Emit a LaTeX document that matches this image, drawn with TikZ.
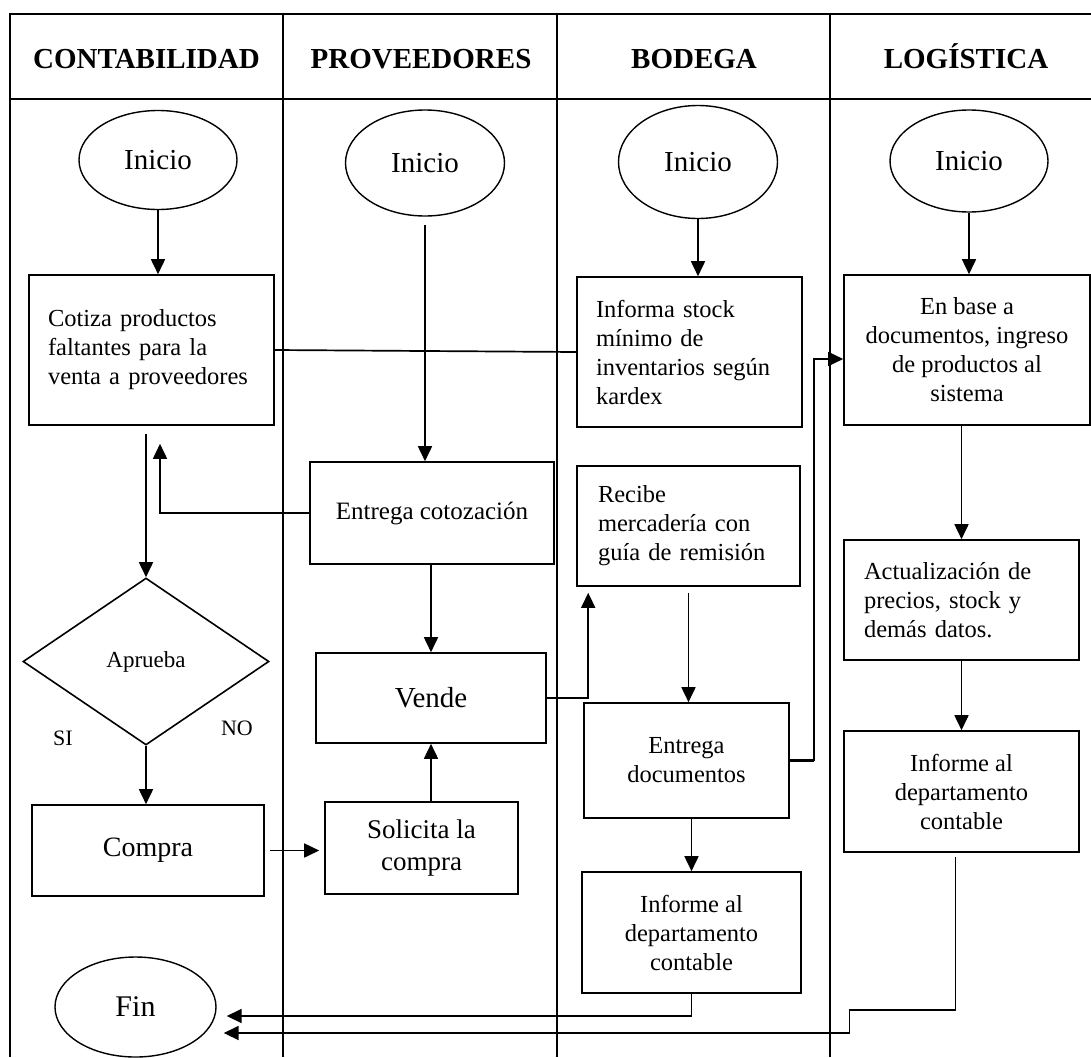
\documentclass[tikz,border=0pt]{standalone}
\usepackage{fontspec}
\setmainfont{Liberation Serif}
\usetikzlibrary{shapes.geometric,arrows.meta,calc}
\begin{document}
\begin{tikzpicture}[x=1pt,y=-1pt,
  lane/.style={line width=2.5pt},
  box/.style={draw,line width=1.6pt,rectangle,inner sep=0pt},
  oval/.style={draw,line width=1.4pt,ellipse,inner sep=0pt,font=\fontsize{29}{33}\selectfont},
  head/.style={font=\fontsize{29}{33}\selectfont\bfseries,anchor=base},
  txt/.style={font=\fontsize{24.5}{29}\selectfont},
  big/.style={font=\fontsize{28}{32}\selectfont},
  arr/.style={line width=1.7pt,-{Triangle[length=15pt,width=14pt]}},
  link/.style={line width=1.7pt},
]
\fill[white] (0,0) rectangle (1091,1057);
\useasboundingbox (0,0) rectangle (1091,1057);

% swimlane frame
\draw[lane] (10,1057) -- (10,14) -- (1091,14);
\draw[lane] (10,99) -- (1091,99);
\foreach \x in {283,557,830} \draw[lane] (\x,14) -- (\x,1057);

% lane titles
\node[head] (hC) at (146.5,68) {CONTABILIDAD};
\node[head] (hP) at (421,68) {PROVEEDORES};
\node[head] (hB) at (694,68) {BODEGA};
\node[head] (hL) at (966,68) {LOGÍSTICA};

% start / end terminals
\node[oval,minimum width=158pt,minimum height=99pt] (iniC) at (158,160) {Inicio};
\node[oval,minimum width=159pt,minimum height=106pt] (iniP) at (425,163) {Inicio};
\node[oval,minimum width=159pt,minimum height=113pt] (iniB) at (698,162) {Inicio};
\node[oval,minimum width=158pt,minimum height=102pt] (iniL) at (969,161) {Inicio};
\node[oval,minimum width=161pt,minimum height=100pt,font=\fontsize{30}{34}\selectfont] (fin) at (135.5,1007) {Fin};

% CONTABILIDAD
\node[box,txt,minimum width=245pt,minimum height=150pt,text width=207pt,align=left] (cotiza) at (151.5,350)
  {Cotiza productos\\faltantes para la\\venta a proveedores};
\node[draw,diamond,line width=1.6pt,inner sep=0pt,minimum width=246pt,minimum height=167pt,
  font=\fontsize{23}{27}\selectfont] (apr) at (146,661.5) {Aprueba};
\node[font=\fontsize{22}{26}\selectfont] (si) at (63,738) {SI};
\node[font=\fontsize{22}{26}\selectfont] (no) at (237,728) {NO};
\node[box,big,minimum width=232pt,minimum height=91pt] (compra) at (148,850.5) {Compra};

% PROVEEDORES
\node[box,font=\fontsize{25}{29}\selectfont,minimum width=244pt,minimum height=102pt] (ecot) at (432,513) {Entrega cotozación};
\node[box,font=\fontsize{29}{33}\selectfont,minimum width=230pt,minimum height=90pt] (vende) at (431,698) {Vende};
\node[box,font=\fontsize{27}{32}\selectfont,minimum width=193pt,minimum height=92pt,align=center] (sol) at (421.5,848)
  {Solicita la\\compra};

% BODEGA
\node[box,txt,minimum width=225pt,minimum height=150pt,text width=187pt,align=left] (informa) at (689.5,352)
  {Informa stock\\mínimo de\\inventarios según\\kardex};
\node[box,txt,minimum width=223pt,minimum height=120pt,text width=181pt,align=left] (recibe) at (688.5,526)
  {Recibe\\mercadería con\\guía de remisión};
\node[box,txt,minimum width=205pt,minimum height=115pt,align=center] (entdoc) at (686.5,760.5)
  {Entrega\\documentos};
\node[box,txt,minimum width=219pt,minimum height=121pt,align=center] (infB) at (691.5,932.5)
  {Informe al\\departamento\\contable};

% LOGÍSTICA
\node[box,txt,minimum width=246pt,minimum height=150pt,align=center] (enbase) at (967,350)
  {En base a\\documentos, ingreso\\de productos al\\sistema};
\node[box,txt,minimum width=235pt,minimum height=120pt,text width=195pt,align=left] (actual) at (961.5,600)
  {Actualización de\\precios, stock y\\demás datos.};
\node[box,txt,minimum width=235pt,minimum height=121pt,align=center] (infL) at (961.5,791.5)
  {Informe al\\departamento\\contable};

% flow
\draw[arr] (iniC.south) -- (cotiza.north -| iniC.south);
\draw[arr,shorten <=8pt] (iniP.south) -- (ecot.north -| iniP.south);
\draw[arr] (iniB.south) -- (informa.north -| iniB.south);
\draw[arr] (iniL.south) -- (enbase.north -| iniL.south);

\draw[link] (cotiza.east) -- (informa.west);
\draw[arr,shorten <=8pt] (cotiza.south -| apr.north) -- (apr.north);
\draw[arr,shorten >=18pt] (ecot.west) -| ($(cotiza.south)+(8.5,0)$);
\draw[arr] (ecot.south -| vende.north) -- (vende.north);
\draw[arr] (apr.south) -- (compra.north -| apr.south);
\draw[arr,shorten <=5pt,shorten >=5pt] (compra.east) -- (compra.east -| sol.west);
\draw[arr] (sol.north -| vende.south) -- (vende.south);
\draw[arr,shorten >=6pt] (vende.east) -| ($(recibe.south west)+(12,0)$);
\draw[arr,shorten <=6pt] (recibe.south) -- (entdoc.north -| recibe.south);
\draw[line width=3.5pt] (entdoc.east) -- ++(24,0) coordinate (ek);
\draw[arr] (ek) |- ($(enbase.west)+(0,9)$);
\draw[arr] (entdoc.south -| infB.north) -- (infB.north);
\draw[arr] (enbase.south -| actual.north) -- (actual.north);
\draw[arr] (actual.south) -- (infL.north);
\draw[arr,shorten >=10pt] (infB.south) |- ($(fin.east)+(0,9)$);
\draw[arr,shorten >=7pt] ($(infL.south)+(-6,4)$) -- ($(infL.south)+(-6,157)$)
  -- ($(infL.south)+(-112,157)$) |- ($(fin.east)+(0,26)$);
\end{tikzpicture}
\end{document}
